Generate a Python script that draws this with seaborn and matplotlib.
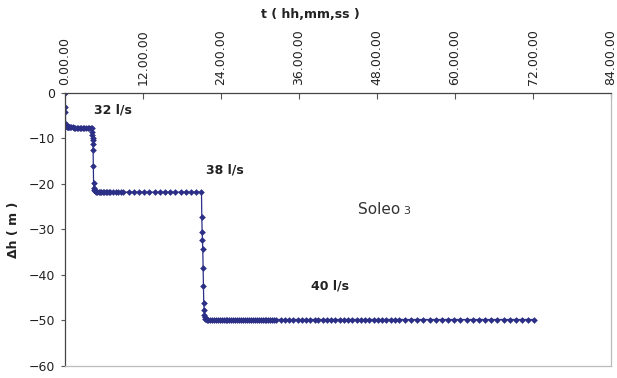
import matplotlib
matplotlib.use("Agg")
import matplotlib.pyplot as plt
from matplotlib.ticker import FixedLocator, FuncFormatter
import seaborn as sns
import pandas as pd

sns.set_theme(style="white")
plt.rcParams['font.family'] = ['DejaVu Sans']

# time in hours since start, drawdown in metres
t_step1 = [0.0, 0.03, 0.06, 0.1, 0.15, 0.2, 0.3, 0.4, 0.5, 0.65, 0.8, 1.0, 1.2,
           1.4, 1.6, 1.8, 2.0, 2.25, 2.5, 2.75, 3.0, 3.25, 3.5, 3.75, 4.0, 4.1]
dh_step1 = [0.0, -3.0, -4.2, -6.8, -7.2, -7.3, -7.4, -7.4, -7.5, -7.5, -7.5, -7.5, -7.5,
            -7.6, -7.6, -7.6, -7.6, -7.6, -7.6, -7.7, -7.7, -7.7, -7.7, -7.7, -7.8, -7.8]

t_step2 = [4.2, 4.22, 4.25, 4.28, 4.3, 4.33, 4.36, 4.4, 4.45, 4.5, 4.6, 4.7, 4.85,
           5.0, 5.2, 5.4, 5.6, 5.8, 6.0, 6.25, 6.5, 6.75, 7.0, 7.4, 7.8, 8.2, 8.6,
           9.0, 9.8, 10.6, 11.4, 12.2, 13.0, 13.8, 14.6, 15.4, 16.2, 17.0, 17.8,
           18.6, 19.4, 20.2, 21.0]
dh_step2 = [-8.6, -9.2, -9.8, -10.4, -11.2, -12.6, -16.0, -19.8, -20.8, -21.3, -21.5, -21.6, -21.7,
            -21.7, -21.7, -21.7, -21.7, -21.7, -21.7, -21.7, -21.7, -21.7, -21.7, -21.7, -21.7, -21.7, -21.7,
            -21.8, -21.8, -21.8, -21.8, -21.8, -21.8, -21.8, -21.8, -21.8, -21.8, -21.8, -21.8,
            -21.8, -21.8, -21.8, -21.8]

t_step3 = [21.05, 21.1, 21.15, 21.2, 21.25, 21.3, 21.35, 21.4, 21.45, 21.5, 21.6, 21.7,
           21.8, 22.0, 22.3, 22.6, 22.9, 23.2, 23.5, 23.8, 24.1, 24.4, 24.7, 25.0,
           25.3, 25.6, 25.9, 26.2, 26.5, 26.8, 27.1, 27.4, 27.7, 28.0, 28.3, 28.6,
           28.9, 29.2, 29.5, 29.8, 30.1, 30.4, 30.7, 31.0, 31.3, 31.6, 31.9, 32.2,
           32.5, 33.2, 33.8, 34.5, 35.1, 35.8, 36.4, 37.1, 37.7, 38.4, 39.0, 39.7,
           40.3, 41.0, 41.6, 42.3, 42.9, 43.6, 44.2, 44.9, 45.5, 46.2, 46.8, 47.5,
           48.1, 48.8, 49.4, 50.1, 50.7, 51.4, 52.3, 53.2, 54.2, 55.1, 56.1, 57.0,
           58.0, 58.9, 59.9, 60.8, 61.8, 62.7, 63.7, 64.6, 65.6, 66.5, 67.5, 68.4,
           69.4, 70.3, 71.3, 72.2]
dh_step3 = [-27.3, -30.5, -32.3, -34.4, -38.5, -42.4, -46.2, -47.7, -48.8, -49.3, -49.6, -49.7,
            -49.8, -49.8, -49.8, -49.8, -49.8, -49.8, -49.8, -49.8, -49.8, -49.8, -49.8, -49.8,
            -49.8, -49.8, -49.8, -49.8, -49.8, -49.8, -49.8, -49.8, -49.8, -49.8, -49.8, -49.8,
            -49.8, -49.8, -49.8, -49.8, -49.8, -49.8, -49.8, -49.8, -49.8, -49.8, -49.8, -49.8,
            -49.8, -49.8, -49.8, -49.8, -49.8, -49.8, -49.8, -49.8, -49.8, -49.8, -49.8, -49.8,
            -49.8, -49.8, -49.8, -49.8, -49.8, -49.8, -49.8, -49.8, -49.8, -49.8, -49.8, -49.8,
            -49.8, -49.8, -49.8, -49.8, -49.8, -49.8, -49.8, -49.8, -49.8, -49.8, -49.8, -49.8,
            -49.8, -49.8, -49.8, -49.8, -49.8, -49.8, -49.8, -49.8, -49.8, -49.8, -49.8, -49.8,
            -49.8, -49.8, -49.8, -49.8]

x_ticks = [0, 12, 24, 36, 48, 60, 72, 84]
y_ticks = [0, -10, -20, -30, -40, -50, -60]

flow_labels = ["32 l/s", "38 l/s", "40 l/s"]
flow_pos = [(7.4, -3.7), (24.6, -17.0), (40.8, -42.5)]

df = pd.DataFrame({
    "t": t_step1 + t_step2 + t_step3,
    "dh": dh_step1 + dh_step2 + dh_step3,
})

LINE_COLOR = "#2b2f86"

fig = plt.figure(figsize=(6.17, 3.78), dpi=100)
ax = fig.add_axes([0.1053, 0.032, 0.885, 0.722])

sns.lineplot(data=df, x="t", y="dh", ax=ax, color=LINE_COLOR, linewidth=0.9,
             marker="D", markersize=3.4, markeredgewidth=0, sort=False)

ax.set_xlim(0, 84)
ax.set_ylim(-60, 0)
ax.xaxis.tick_top()
ax.xaxis.set_label_position("top")
ax.xaxis.set_major_locator(FixedLocator(x_ticks))
ax.xaxis.set_major_formatter(FuncFormatter(lambda v, p: f"{int(v)}.00.00"))
ax.yaxis.set_major_locator(FixedLocator(y_ticks))
ax.tick_params(axis="x", which="major", rotation=90, labelsize=9, direction="in",
               length=4, width=0.8, color="#555555", pad=6, labelcolor="#222222")
ax.tick_params(axis="y", which="major", labelsize=9, direction="out", left=True,
               length=3, width=0.8, color="#555555", pad=4, labelcolor="#222222")

for side in ["left", "top"]:
    ax.spines[side].set_color("#444444")
    ax.spines[side].set_linewidth(0.9)
for side in ["right", "bottom"]:
    ax.spines[side].set_color("#bbbbbb")
    ax.spines[side].set_linewidth(0.9)

ax.set_xlabel("")
ax.set_ylabel("\u0394h ( m )", fontsize=9, fontweight="bold", color="#222222", labelpad=6)
fig.text(310 / 617, 1 - 14 / 378, "t ( hh,mm,ss )", ha="center", va="center",
         fontsize=9, fontweight="bold", color="#222222")

for lab, (x, y) in zip(flow_labels, flow_pos):
    ax.text(x, y, lab, ha="center", va="center", fontsize=9, fontweight="bold", color="#222222")

ax.text(51.6, -25.7, "Soleo", ha="right", va="center", fontsize=11, color="#333333")
ax.text(52.1, -26.0, "3", ha="left", va="center", fontsize=8, color="#333333")

fig.savefig("out.png", dpi=100)
